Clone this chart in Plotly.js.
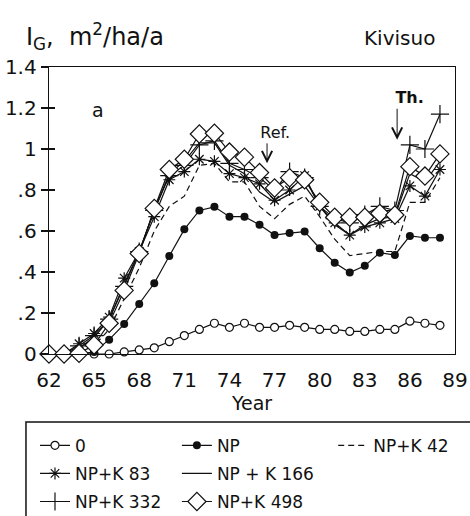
<!DOCTYPE html>
<html>
<head>
<meta charset="utf-8">
<script src="https://cdn.plot.ly/plotly-3.0.1.min.js"></script>
<style>
  html, body { margin: 0; padding: 0; background: #fff; }
  #chart { width: 470px; height: 516px; }
</style>
</head>
<body>
<div id="chart"></div>
<script>
// Basal area increment I_G (m2/ha/a) by fertilisation treatment, Kivisuo
const years = [62,63,64,65,66,67,68,69,70,71,72,73,74,75,76,77,78,79,80,81,82,83,84,85,86,87,88];

const ig0     = [0,0,0,0,0,0.01,0.02,0.03,0.06,0.09,0.12,0.15,0.13,0.15,0.13,0.13,0.14,0.13,0.12,0.12,0.11,0.11,0.12,0.12,0.16,0.15,0.14];
const igNP    = [0,0,0,0.01,0.07,0.146,0.244,0.345,0.478,0.608,0.70,0.718,0.67,0.67,0.63,0.58,0.59,0.597,0.516,0.445,0.397,0.43,0.494,0.483,0.576,0.567,0.567];
const igK42   = [0,0,0.01,0.04,0.12,0.27,0.42,0.60,0.72,0.77,0.92,0.93,0.84,0.84,0.72,0.66,0.73,0.77,0.67,0.56,0.48,0.49,0.50,0.50,0.74,0.74,0.86];
const igK83   = [0,0,0.05,0.10,0.18,0.37,0.50,0.67,0.85,0.89,0.95,0.94,0.88,0.86,0.83,0.75,0.80,0.87,0.72,0.64,0.58,0.62,0.64,0.66,0.82,0.77,0.90];
const igK166  = [0,0,0.03,0.08,0.17,0.34,0.50,0.70,0.88,0.94,1.03,1.03,0.92,0.88,0.79,0.74,0.78,0.82,0.72,0.63,0.58,0.63,0.66,0.67,0.88,0.84,0.94];
const igK332  = [0,0,0.04,0.09,0.17,0.33,0.50,0.70,0.87,0.92,1.02,1.04,0.93,0.90,0.86,0.80,0.89,0.86,0.72,0.66,0.64,0.68,0.72,0.70,1.02,1.00,1.17];
const igK498  = [0,0,0.003,0.044,0.15,0.31,0.49,0.71,0.90,0.95,1.073,1.077,0.985,0.96,0.885,0.81,0.86,0.85,0.74,0.667,0.667,0.667,0.686,0.678,0.914,0.868,0.976];

const xTicks = [62,65,68,71,74,77,80,83,86,89];
const yTicks = [0,0.2,0.4,0.6,0.8,1,1.2,1.4];
const yTickText = ['0','.2','.4','.6','.8','1','1.2','1.4'];

const FONT = 'DejaVu Sans, sans-serif';
const INK = '#111';

function series(name, y, legend, line, marker) {
  const t = {
    type: 'scatter', x: years, y: y, name: name,
    legend: legend, legendgroup: name,
    mode: marker ? 'lines+markers' : 'lines',
    line: Object.assign({ color: INK, width: 1.2 }, line),
    cliponaxis: false
  };
  if (marker) t.marker = marker;
  return t;
}

const traces = [
  series('0', ig0, 'legend', {}, { symbol: 'circle', size: 8, color: '#fff', line: { color: INK, width: 1.2 } }),
  series('NP', igNP, 'legend2', {}, { symbol: 'circle', size: 8, color: INK }),
  series('NP+K 42', igK42, 'legend3', { dash: '6px,4px' }, null),
  series('NP+K 83', igK83, 'legend', {}, { symbol: 'asterisk-open', size: 10, color: INK, line: { color: INK, width: 1.2 } }),
  series('NP + K 166', igK166, 'legend2', {}, null),
  series('NP+K 332', igK332, 'legend', {}, { symbol: 'cross-thin-open', size: 13, color: INK, line: { color: INK, width: 1.2 } }),
  series('NP+K 498', igK498, 'legend2', {}, { symbol: 'diamond', size: 14, color: '#fff', line: { color: INK, width: 1.2 } })
];

// invisible point on the overlay axis so its crossing ticks are drawn
traces.push({ type: 'scatter', x: [62], y: [0], yaxis: 'y2', mode: 'markers',
  marker: { size: 1, opacity: 0 }, showlegend: false, hoverinfo: 'skip' });

const legendBase = {
  bgcolor: 'rgba(0,0,0,0)', borderwidth: 0,
  font: { family: FONT, size: 17, color: INK },
  xanchor: 'left', yanchor: 'top', orientation: 'v', tracegroupgap: 3
};

const layout = {
  width: 470, height: 516,
  margin: { l: 49, r: 15, t: 67, b: 162, autoexpand: false },
  paper_bgcolor: '#fff', plot_bgcolor: '#fff',
  font: { family: FONT, color: INK },
  showlegend: true,
  legend:  Object.assign({}, legendBase, { x: -0.0345, y: -0.257 }),
  legend2: Object.assign({}, legendBase, { x: 0.315, y: -0.257 }),
  legend3: Object.assign({}, legendBase, { x: 0.70, y: -0.257 }),
  xaxis: {
    range: [62, 89], tickvals: xTicks, ticks: '', ticklabelstandoff: 8,
    showline: true, mirror: true, linecolor: INK, linewidth: 1.3,
    showgrid: false, zeroline: false,
    tickfont: { family: FONT, size: 20, color: INK },
    title: { text: 'Year', font: { family: FONT, size: 19, color: INK }, standoff: 2 }
  },
  yaxis: {
    range: [0, 1.4], tickvals: yTicks, ticktext: yTickText,
    ticks: 'outside', ticklen: 7, tickcolor: INK, tickwidth: 1.2,
    showline: true, mirror: true, linecolor: INK, linewidth: 1.3,
    showgrid: false, zeroline: false,
    tickfont: { family: FONT, size: 20, color: INK }
  },
  yaxis2: {
    overlaying: 'y', side: 'left', range: [0, 1.4], tickvals: yTicks,
    ticks: 'inside', ticklen: 6, tickcolor: INK, tickwidth: 1.2,
    showticklabels: false, showline: false, showgrid: false, zeroline: false
  },
  shapes: [
    { type: 'rect', xref: 'paper', yref: 'paper', x0: -0.0567, x1: 1.3, y0: -0.237, y1: -0.9,
      line: { color: INK, width: 1.5 }, fillcolor: 'rgba(0,0,0,0)' }
  ],
  annotations: [
    { xref: 'paper', yref: 'paper', x: -0.062, y: 1.105, xanchor: 'left', yanchor: 'middle',
      text: 'I<sub>G</sub>,  m<sup>2</sup>/ha/a', showarrow: false, font: { family: FONT, size: 24, color: INK } },
    { xref: 'paper', yref: 'paper', x: 0.771, y: 1.10, xanchor: 'left', yanchor: 'middle',
      text: 'Kivisuo', showarrow: false, font: { family: FONT, size: 20, color: INK } },
    { xref: 'paper', yref: 'paper', x: 0.101, y: 0.895, text: 'a', showarrow: false,
      font: { family: FONT, size: 19, color: INK } },
    // reference-period and thinning markers, arrow pointing down at the curves
    { xref: 'x', yref: 'y', x: 76.5, y: 0.93, ax: 0, ay: -31, showarrow: true,
      text: '&nbsp;&nbsp;&nbsp;Ref.', font: { family: FONT, size: 16, color: INK },
      arrowhead: 5, arrowsize: 2, arrowwidth: 1, arrowcolor: INK, standoff: 0 },
    { xref: 'x', yref: 'y', x: 85.15, y: 1.045, ax: 0, ay: -42, showarrow: true,
      text: '&nbsp;&nbsp;&nbsp;&nbsp;&nbsp;<b>Th.</b>', font: { family: FONT, size: 16, color: INK },
      arrowhead: 5, arrowsize: 2, arrowwidth: 1, arrowcolor: INK, standoff: 0 }
  ]
};

Plotly.newPlot('chart', traces, layout, { staticPlot: true, displayModeBar: false });
</script>
</body>
</html>
